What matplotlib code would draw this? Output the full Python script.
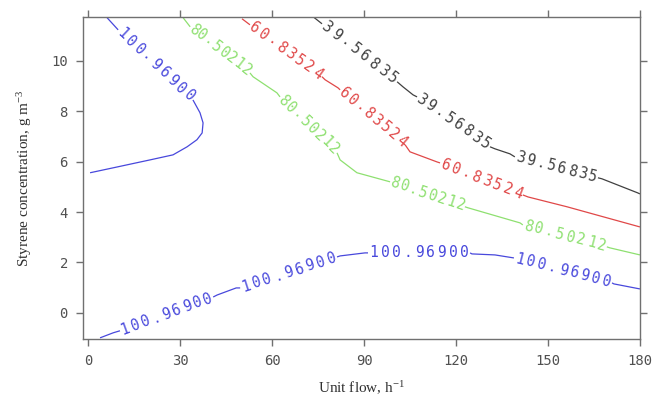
import numpy as np
import matplotlib
matplotlib.use('Agg')
import matplotlib.pyplot as plt

plt.rcParams['mathtext.default'] = 'regular'

# ---------- contour lines (x = unit flow, y = styrene conc.) ----------
# each gap index i means the piece between point i and i+1 carries a label instead of a line
blue_top_x = [6.2, 9.8, 34.2, 36.5, 37.5, 37.2, 35.5, 32.3, 27.7, 20.2, 9.5, 0.65]
blue_top_y = [11.71, 11.23, 8.45, 7.94, 7.54, 7.14, 6.87, 6.59, 6.27, 6.07, 5.79, 5.56]
blue_top_gaps = [1]

blue_low_x = [3.9, 8.2, 10.4, 40.8, 42.1, 48.3, 49.6, 81.2, 82.2, 90.3, 91.3, 124.6,
              125.2, 132.7, 138.9, 170.9, 171.5, 180.0]
blue_low_y = [-0.99, -0.79, -0.71, 0.63, 0.71, 0.99, 0.99, 2.22, 2.26, 2.38, 2.38, 2.38,
              2.34, 2.30, 2.18, 1.19, 1.15, 0.95]
blue_low_gaps = [2, 6, 10, 14]

green_x = [31.0, 33.3, 52.8, 53.8, 61.6, 62.6, 81.2, 82.2, 87.7, 98.5, 122.9,
           123.9, 140.9, 141.8, 169.2, 170.2, 180.0]
green_y = [11.71, 11.35, 9.52, 9.37, 8.73, 8.57, 6.35, 6.07, 5.56, 5.20, 4.21,
           4.17, 3.57, 3.49, 2.62, 2.58, 2.30]
green_gaps = [1, 5, 9, 13]

red_x = [50.2, 52.8, 76.3, 77.3, 81.5, 82.2, 103.4, 105.0, 113.8, 114.8, 141.8,
         143.5, 156.2, 180.0]
red_y = [11.67, 11.43, 9.37, 9.25, 8.93, 8.85, 6.67, 6.39, 5.99, 5.95, 4.68,
         4.60, 4.21, 3.41]
red_gaps = [1, 5, 9]

black_x = [73.4, 76.3, 100.8, 102.7, 106.0, 107.3, 131.1, 132.7, 137.6, 139.2, 166.3,
           167.6, 179.3, 180.0]
black_y = [11.75, 11.47, 9.17, 8.97, 8.65, 8.57, 6.59, 6.51, 6.31, 6.19, 5.36,
           5.32, 4.76, 4.72]
black_gaps = [1, 5, 9]

level_labels = ['100.96900', '100.96900', '80.50212', '60.83524', '39.56835']
level_colors = ['#4848dc', '#4848dc', '#8ee070', '#e04848', '#404040']

x_ticks = [0, 30, 60, 90, 120, 150, 180]
y_ticks = [0, 2, 4, 6, 8, 10]

fig = plt.figure(figsize=(6.55, 4.01), dpi=100)
ax = fig.add_axes([0.127, 0.155, 0.850, 0.802])
ax.set_xlim(-1.6, 180)
ax.set_ylim(-1.03, 11.73)


def draw_contour(xs, ys, gaps, text, color):
    xs = np.asarray(xs)
    ys = np.asarray(ys)
    # line pieces
    start = 0
    for g in gaps + [len(xs) - 1]:
        if g > start:
            ax.plot(xs[start:g + 1], ys[start:g + 1], color=color, lw=0.9,
                    solid_capstyle='butt')
        start = g + 1
    # labels, letter by letter so the spacing fits the gap
    for g in gaps:
        p0 = ax.transData.transform((xs[g], ys[g]))
        p1 = ax.transData.transform((xs[g + 1], ys[g + 1]))
        d = p1 - p0
        length = np.hypot(*d)
        ux, uy = d / length
        ang = np.degrees(np.arctan2(uy, ux))
        step = length / len(text)
        mx, my = (xs[g] + xs[g + 1]) / 2, (ys[g] + ys[g + 1]) / 2
        n = len(text)
        for i, ch in enumerate(text):
            off = (i - (n - 1) / 2) * step
            ax.annotate(ch, (mx, my), xytext=(off * ux * 0.72, off * uy * 0.72),
                        textcoords='offset points', ha='center', va='center',
                        rotation=ang, rotation_mode='anchor',
                        family='DejaVu Sans Mono', fontsize=10.5, color=color)


draw_contour(blue_top_x, blue_top_y, blue_top_gaps, level_labels[0], level_colors[0])
draw_contour(blue_low_x, blue_low_y, blue_low_gaps, level_labels[1], level_colors[1])
draw_contour(green_x, green_y, green_gaps, level_labels[2], level_colors[2])
draw_contour(red_x, red_y, red_gaps, level_labels[3], level_colors[3])
draw_contour(black_x, black_y, black_gaps, level_labels[4], level_colors[4])

ax.set_xticks(x_ticks)
ax.set_yticks(y_ticks)
for s in ax.spines.values():
    s.set_color('#707070')
    s.set_linewidth(1.0)
ax.tick_params(direction='out', length=5, width=1.0, color='#707070',
               top=True, right=True, labelcolor='#505050', labelsize=10, pad=6)
for lab in ax.get_xticklabels() + ax.get_yticklabels():
    lab.set_family('DejaVu Sans Mono')

ax.set_xlabel('Unit flow, h$^{-1}$', family='Liberation Serif', fontsize=11,
              color='#303030', labelpad=8)
ax.set_ylabel('Styrene concentration, g m$^{-3}$', family='Liberation Serif',
              fontsize=11, color='#303030', labelpad=12)

fig.savefig('out.png', dpi=100)
